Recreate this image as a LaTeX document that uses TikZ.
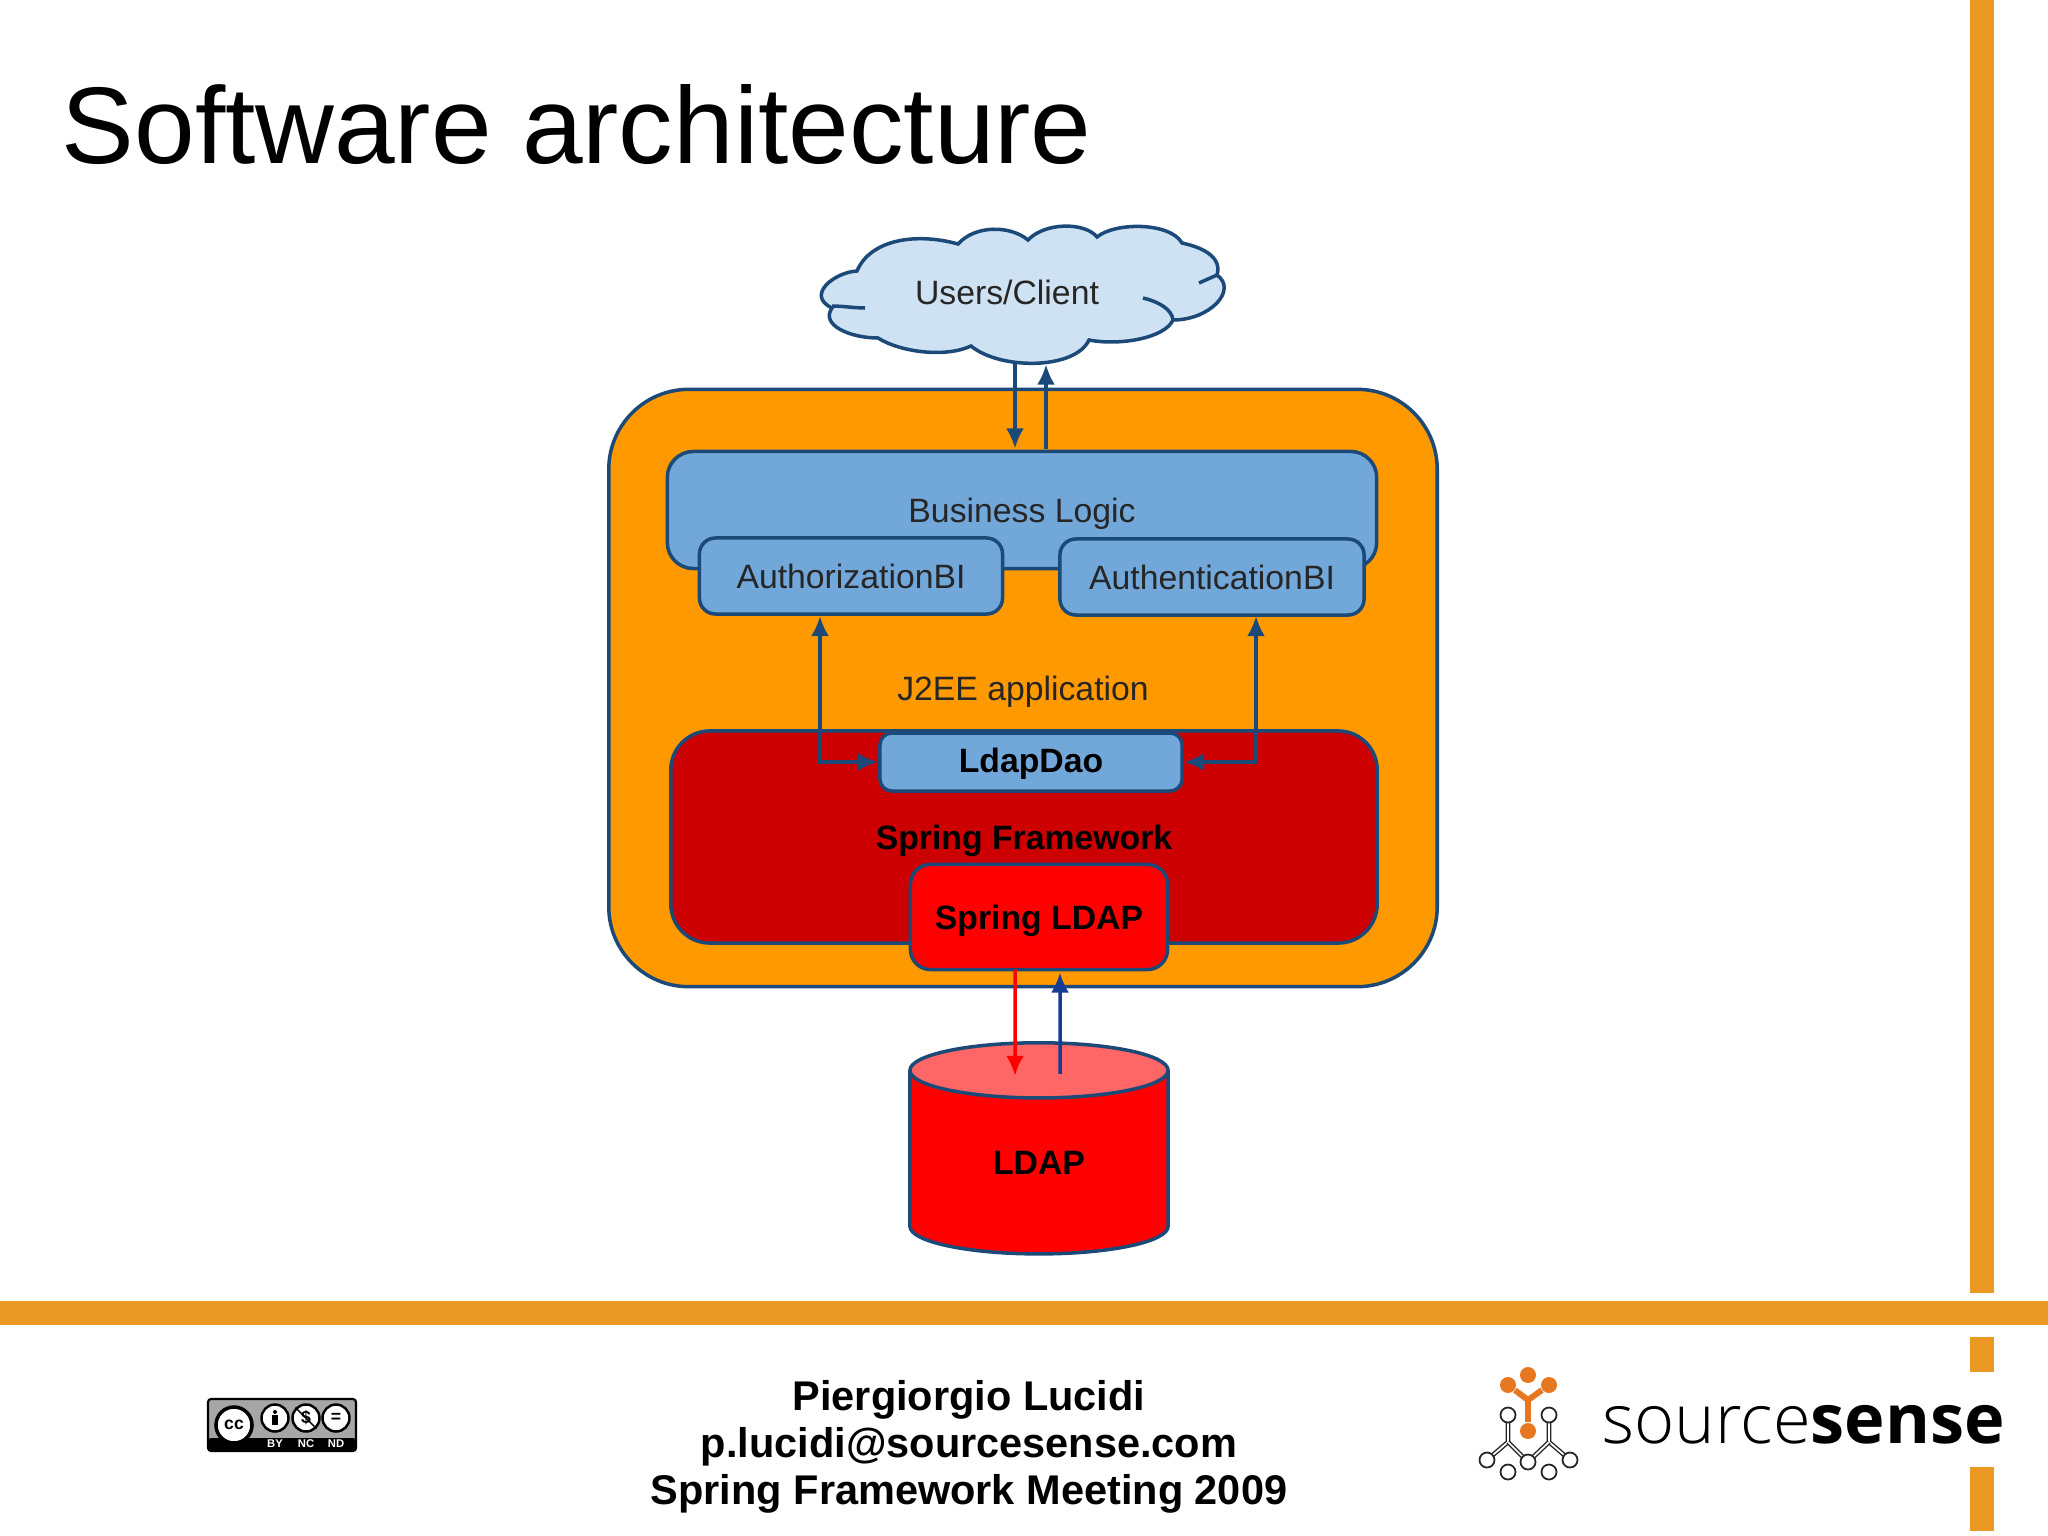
\documentclass[tikz,border=0pt]{standalone}
\usepackage{fontspec}
\setmainfont{Liberation Sans}
\newfontfamily\lightfont{Open Sans Light}
\newfontfamily\heavyfont{Open Sans}[UprightFont=* Bold]
\usetikzlibrary{shapes.geometric,arrows.meta,calc}

\definecolor{barorange}{HTML}{EA9A24}
\definecolor{apporange}{HTML}{FF9900}
\definecolor{boxblue}{HTML}{72A7DA}
\definecolor{cloudblue}{HTML}{CFE2F3}
\definecolor{darkred}{HTML}{CC0000}
\definecolor{lidred}{HTML}{FF6666}
\definecolor{edgeblue}{HTML}{1C4A78}
\definecolor{logoorange}{HTML}{E87722}

\tikzset{
  bar/.style={fill=barorange,draw=none},
  label/.style={font=\fontsize{9.6}{11}\selectfont,text=black!85,text depth=0pt},
  boldlabel/.style={font=\fontsize{9.6}{11}\selectfont\bfseries,text=black,text depth=0pt},
  box/.style={draw=edgeblue,line width=1pt,outer sep=0pt,inner sep=0pt,rectangle},
  arr/.style={draw=edgeblue,line width=1pt,-{Latex[length=2mm,width=1.8mm]}},
  twoway/.style={draw=edgeblue,line width=1pt,{Latex[length=2mm,width=1.8mm]}-{Latex[length=2mm,width=1.8mm]}},
  dot/.style={circle,fill=logoorange,inner sep=0pt,minimum size=0.16cm},
  ring/.style={circle,draw=black!85,fill=white,line width=0.5pt,inner sep=0pt,minimum size=0.15cm},
  wire/.style={draw=black!85,line width=0.4pt,double=white,double distance=0.5pt},
  ccbadge/.style={circle,draw=black,fill=white,line width=0.7pt,inner sep=0pt,minimum size=0.27cm},
  cctext/.style={font=\fontsize{3.2}{4}\selectfont\bfseries,text=white}
}

\begin{document}
\begin{tikzpicture}[x=0.01cm,y=-0.01cm]

  \useasboundingbox (0,0) rectangle (2048,1536);

  %% Orange slide frame
  \fill[bar] (1970,0) rectangle (1994,1293);
  \fill[bar] (0,1301) rectangle (2048,1325);
  \fill[bar] (1970,1337) rectangle (1994,1372);
  \fill[bar] (1970,1467) rectangle (1994,1531);

  \node[anchor=base west,inner sep=0pt,font=\fontsize{31}{34}\selectfont] (title) at (61,163) {Software architecture};

  %% Cloud outline
  \draw[draw=edgeblue,fill=cloudblue,line width=1pt]
    (857,271) .. controls (870,240) and (915,232) .. (958,244)
    .. controls (975,225) and (1010,225) .. (1028,240)
    .. controls (1045,222) and (1085,222) .. (1097,237)
    .. controls (1115,222) and (1170,222) .. (1182,243)
    .. controls (1205,248) and (1222,258) .. (1217,275)
    .. controls (1238,290) and (1210,320) .. (1173,320)
    .. controls (1165,338) and (1120,346) .. (1089,340)
    .. controls (1075,370) and (1000,370) .. (971,346)
    .. controls (945,358) and (900,352) .. (878,338)
    .. controls (850,338) and (820,325) .. (832,308)
    .. controls (805,295) and (835,272) .. (857,271) -- cycle;
  \draw[draw=edgeblue,line width=1pt] (1143,298) .. controls (1160,302) and (1172,310) .. (1173,320);
  \draw[draw=edgeblue,line width=1pt] (1217,275) -- (1199,283);
  \draw[draw=edgeblue,line width=1pt] (832,306) .. controls (842,306) and (855,308) .. (865,308);

  \node[minimum width=4.09cm,minimum height=1.37cm,inner sep=0pt,outer sep=0pt] (cloud) at (1023,294) {};
  \node[label] (users) at (1007,292) {Users/Client};

  %% Application boxes
  \node[box,fill=apporange,rounded corners=0.8cm,minimum width=8.28cm,minimum height=5.97cm,label] (app) at (1023,688) {J2EE application};
  \node[box,fill=boxblue,rounded corners=0.26cm,minimum width=7.09cm,minimum height=1.17cm,label] (logic) at (1022,510) {Business Logic};
  \node[box,fill=boxblue,rounded corners=0.16cm,minimum width=3.03cm,minimum height=0.76cm,label] (authz) at (851,576) {AuthorizationBI};
  \node[box,fill=boxblue,rounded corners=0.16cm,minimum width=3.04cm,minimum height=0.76cm,label] (authn) at (1212,577) {AuthenticationBI};
  \node[box,fill=darkred,rounded corners=0.39cm,minimum width=7.06cm,minimum height=2.12cm,boldlabel] (spring) at (1024,837) {Spring Framework};
  \node[box,fill=boxblue,rounded corners=0.12cm,minimum width=3.02cm,minimum height=0.58cm,boldlabel,text depth=1.2pt] (dao) at (1031,762) {LdapDao};
  \node[box,fill=red,rounded corners=0.2cm,minimum width=2.57cm,minimum height=1.05cm,boldlabel] (springldap) at (1039,917) {Spring LDAP};

  %% Database
  \node[draw=edgeblue,line width=1pt,cylinder,shape border rotate=90,shape aspect=0.6,
    cylinder uses custom fill,cylinder body fill=red,cylinder end fill=lidred,
    minimum width=2.58cm,minimum height=2.11cm,inner sep=0pt,outer sep=0pt,boldlabel] (ldap) at (1039,1163) {LDAP};

  %% Draw arrows between the boxes
  \draw[arr] ($(cloud.south)+(-8,0)$) -- ($(logic.north)+(-7,-3)$);
  \draw[arr] ($(logic.north)+(24,-2)$) -- ($(cloud.south)+(23,2)$);
  \draw[twoway] ($(authz.south)+(-31,2)$) |- ($(dao.west)+(-2,0)$);
  \draw[twoway] ($(authn.south)+(44,1)$) |- ($(dao.east)+(2,0)$);
  \draw[red,line width=1pt,-{Latex[length=2mm,width=1.8mm]}] ($(springldap.south)+(-24,0)$) -- ($(ldap.north)+(-24,33)$);
  \draw[draw=edgeblue!80!blue,line width=1pt,-{Latex[length=2mm,width=1.8mm]}] ($(ldap.north)+(21,31)$) -- ($(springldap.south)+(21,3)$);

  %% Footer text
  \node[align=center,font=\fontsize{11.8}{13.4}\selectfont\bfseries] (credits) at (969,1447) {Piergiorgio Lucidi\\p.lucidi@sourcesense.com\\Spring Framework Meeting 2009};

  %% Licence badge
  \draw[draw=black,fill=black!35,line width=0.6pt,rounded corners=0.03cm] (208,1399) rectangle (356,1451);
  \fill[black,rounded corners=0.03cm] (208,1438) rectangle (356,1451);
  \node[circle,draw=black,fill=white,line width=1pt,inner sep=0pt,minimum size=0.36cm,font=\fontsize{5}{6}\selectfont\bfseries] (cc) at (234,1425) {cc};
  \node[ccbadge] (by) at (275,1418) {};
  \node[ccbadge,font=\fontsize{5}{6}\selectfont\bfseries] (nc) at (306,1418) {\$};
  \node[ccbadge,font=\fontsize{5}{6}\selectfont\bfseries] (nd) at (336,1418) {=};
  \fill[black] (275,1412) circle (2);
  \fill[black] (272,1415) rectangle (278,1425);
  \draw[black,line width=0.4pt] (nc.north west) -- (nc.south east);
  \node[cctext] (bytext) at (275,1444) {BY};
  \node[cctext] (nctext) at (306,1444) {NC};
  \node[cctext] (ndtext) at (336,1444) {ND};

  %% Company logo
  \draw[wire] (1508,1415) -- (1508,1442) -- (1487,1460);
  \draw[wire] (1549,1415) -- (1549,1442) -- (1570,1460);
  \draw[wire] (1508,1442) -- (1528,1462) -- (1549,1442);
  \node[ring] (ringa) at (1508,1415) {};
  \node[ring] (ringb) at (1549,1415) {};
  \node[ring] (ringc) at (1487,1460) {};
  \node[ring] (ringd) at (1528,1462) {};
  \node[ring] (ringe) at (1570,1460) {};
  \node[ring] (ringf) at (1508,1472) {};
  \node[ring] (ringg) at (1549,1472) {};
  \coordinate (fork) at (1528,1400);
  \node[dot] (dota) at (1528,1375) {};
  \node[dot] (dotb) at (1508,1385) {};
  \node[dot] (dotc) at (1549,1385) {};
  \node[dot] (dotd) at (1528,1431) {};
  \draw[logoorange,line width=1.7pt] (dotb) -- (fork) -- (dotc);
  \draw[logoorange,line width=1.7pt] (fork) -- (dotd);

  \node[anchor=base west,inner sep=0pt,font=\fontsize{19.5}{22}\selectfont] (brand) at (1602,1443) {{\lightfont source}{\heavyfont sense}};

\end{tikzpicture}
\end{document}
